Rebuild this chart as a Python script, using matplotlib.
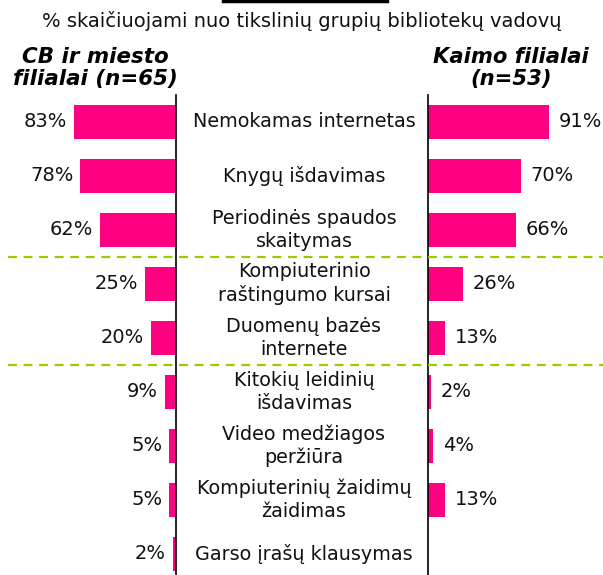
import matplotlib
matplotlib.use("Agg")
import matplotlib.pyplot as plt
from matplotlib.lines import Line2D
from matplotlib.transforms import blended_transform_factory

categories = [
    "Nemokamas internetas",
    "Knygų išdavimas",
    "Periodinės spaudos\nskaitymas",
    "Kompiuterinio\nraštingumo kursai",
    "Duomenų bazės\ninternete",
    "Kitokių leidinių\nišdavimas",
    "Video medžiagos\nperžiūra",
    "Kompiuterinių žaidimų\nžaidimas",
    "Garso įrašų klausymas",
]
city = [83, 78, 62, 25, 20, 9, 5, 5, 2]
rural = [91, 70, 66, 26, 13, 2, 4, 13, None]
group_breaks = [2.5, 4.5]

PINK = "#FF0080"
GREEN = "#99CC00"
W, H = 603, 575

fig = plt.figure(figsize=(W / 100, H / 100), dpi=100)

# axes placed in pixel terms: top at 95 px, bottom at 575 px
ax_l = fig.add_axes([0, 0, 175.5 / W, 480 / H])
ax_r = fig.add_axes([428 / W, 0, 175 / W, 480 / H])

ylo, yhi = 8.39, -0.5
ypos = list(range(len(categories)))

ax_l.barh(ypos, city, height=0.63, color=PINK)
ax_l.set_xlim(143.8, 0)
ax_l.set_ylim(ylo, yhi)
for y, v in zip(ypos, city):
    ax_l.annotate(f"{v}%", (v, y), xytext=(-5, 0), textcoords="offset points",
                  ha="right", va="center", fontsize=14, color="#111111")

rv = [0 if v is None else v for v in rural]
ax_r.barh(ypos, rv, height=0.63, color=PINK)
ax_r.set_xlim(0, 131.6)
ax_r.set_ylim(ylo, yhi)
for y, v in zip(ypos, rural):
    if v is None:
        continue
    ax_r.annotate(f"{v}%", (v, y), xytext=(7, 0), textcoords="offset points",
                  ha="left", va="center", fontsize=14, color="#111111")

for ax in (ax_l, ax_r):
    ax.set_xticks([])
    ax.set_yticks([])
    for s in ax.spines.values():
        s.set_visible(False)
    ax.patch.set_alpha(0)
ax_l.spines["right"].set_visible(True)
ax_r.spines["left"].set_visible(True)
ax_l.spines["right"].set_linewidth(1.2)
ax_r.spines["left"].set_linewidth(1.2)

# category labels between the two axes
tr = blended_transform_factory(fig.transFigure, ax_l.transData)
for y, c in zip(ypos, categories):
    fig.text(304 / W, y, c, transform=tr, ha="center", va="center",
             fontsize=13.8, color="#111111", linespacing=1.25)

# group separators
for b in group_breaks:
    fig.lines.append(Line2D([8 / W, 1], [b, b], transform=tr, color=GREEN,
                            linestyle=(0, (4, 3)), linewidth=1.6))

# clipped title underline at the very top
fig.lines.append(Line2D([223 / W, 387 / W], [1 - 1 / H, 1 - 1 / H],
                        transform=fig.transFigure, color="black", linewidth=2.5))

fig.text(302 / W, 1 - 21 / H, "% skaičiuojami nuo tikslinių grupių bibliotekų vadovų",
         ha="center", va="center", fontsize=14, color="#111111")
fig.text(95 / W, 1 - 68 / H, "CB ir miesto\nfilialai (n=65)", ha="center",
         va="center", fontsize=15.4, fontweight="bold", style="italic",
         linespacing=1.12)
fig.text(511 / W, 1 - 68 / H, "Kaimo filialai\n(n=53)", ha="center",
         va="center", fontsize=15.2, fontweight="bold", style="italic",
         linespacing=1.12)

fig.savefig("out.png", dpi=100)
plt.close(fig)
